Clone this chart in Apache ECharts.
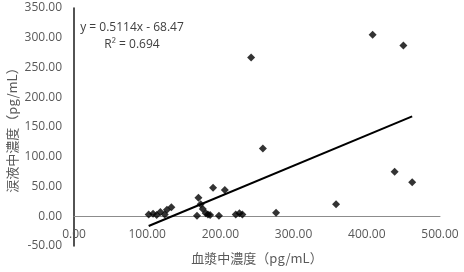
<!DOCTYPE html>
<html>
<head>
<meta charset="utf-8">
<script src="https://cdn.jsdelivr.net/npm/echarts@6/dist/echarts.min.js"></script>
<style>
  html, body { margin: 0; padding: 0; background: #fff; }
  #chart { width: 464px; height: 272px; }
</style>
</head>
<body>
<div id="chart"></div>
<script>
const plasma = [102, 108, 113, 118, 124, 127, 133, 168, 170, 173, 176, 180, 183, 186, 190, 198, 206, 221, 226, 230, 242, 258, 276, 358, 408, 438, 450, 462]
const tear = [3, 4, 2, 7, 3, 11, 15, 1, 31, 20, 12, 5, 3, 2, 48, 1, 44, 3, 5, 3, 267, 114, 6, 20, 305, 75, 287, 57]

// 近似直線
const slope = 0.5114
const intercept = -68.47
const r2 = 0.694

const xName = '血漿中濃度（pg/mL）'
const yName = '涙液中濃度（pg/mL）'

const yMin = -50
const yMax = 350

const points = plasma.map((x, i) => [x, tear[i]])
const xMin = Math.min(...plasma)
const xMax = Math.max(...plasma)
const trend = [xMin, xMax].map(x => [x, slope * x + intercept])

const numFont = '"Open Sans", "Noto Sans", sans-serif'
const cjkFont = '"Noto Sans CJK JP", sans-serif'

const W = 464, H = 272
const grid = { left: 74, right: 24, top: 8, bottom: 26 }
// x軸をy=0の位置まで持ち上げる（ラベルも一緒に移動させるため）
const zeroOffset = (H - grid.top - grid.bottom) * (0 - yMin) / (yMax - yMin)

const chart = echarts.init(document.getElementById('chart'))

const option = {
  animation: false,
  grid: { ...grid, outerBoundsMode: 'none', containLabel: false },
  xAxis: {
    type: 'value',
    min: 0,
    max: 500,
    interval: 100,
    offset: -zeroOffset,
    name: xName,
    nameLocation: 'middle',
    nameGap: 35,
    nameMoveOverlap: false,
    nameTextStyle: { fontFamily: cjkFont, fontSize: 13, color: '#595959' },
    axisLine: { onZero: false, lineStyle: { color: '#8c8c8c', width: 1 } },
    axisTick: { show: false },
    splitLine: { show: false },
    axisLabel: {
      margin: 12,
      fontFamily: numFont,
      fontSize: 12,
      color: '#595959',
      formatter: v => v.toFixed(2)
    }
  },
  yAxis: {
    type: 'value',
    min: yMin,
    max: yMax,
    interval: 50,
    name: yName,
    nameLocation: 'middle',
    nameRotate: 90,
    nameGap: 55,
    nameMoveOverlap: false,
    nameTextStyle: { fontFamily: cjkFont, fontSize: 13, color: '#595959' },
    axisLine: { show: true, onZero: false, lineStyle: { color: '#1a1a1a', width: 1.5 } },
    axisTick: { show: false },
    splitLine: { show: false },
    axisLabel: {
      margin: 12,
      fontFamily: numFont,
      fontSize: 12,
      color: '#595959',
      formatter: v => v.toFixed(2)
    }
  },
  graphic: [
    {
      type: 'text',
      x: 132,
      y: 19,
      style: {
        text: 'y = ' + slope + 'x - ' + Math.abs(intercept) + '\nR² = ' + r2,
        align: 'center',
        verticalAlign: 'top',
        lineHeight: 17,
        fontFamily: numFont,
        fontSize: 12,
        fill: '#404040'
      }
    }
  ],
  series: [
    {
      name: '実測値',
      type: 'scatter',
      symbol: 'diamond',
      symbolSize: 8,
      itemStyle: { color: '#000' },
      data: points
    },
    {
      name: '近似直線',
      type: 'line',
      showSymbol: false,
      lineStyle: { color: '#000', width: 2 },
      data: trend
    }
  ]
}

chart.setOption(option)
</script>
</body>
</html>
